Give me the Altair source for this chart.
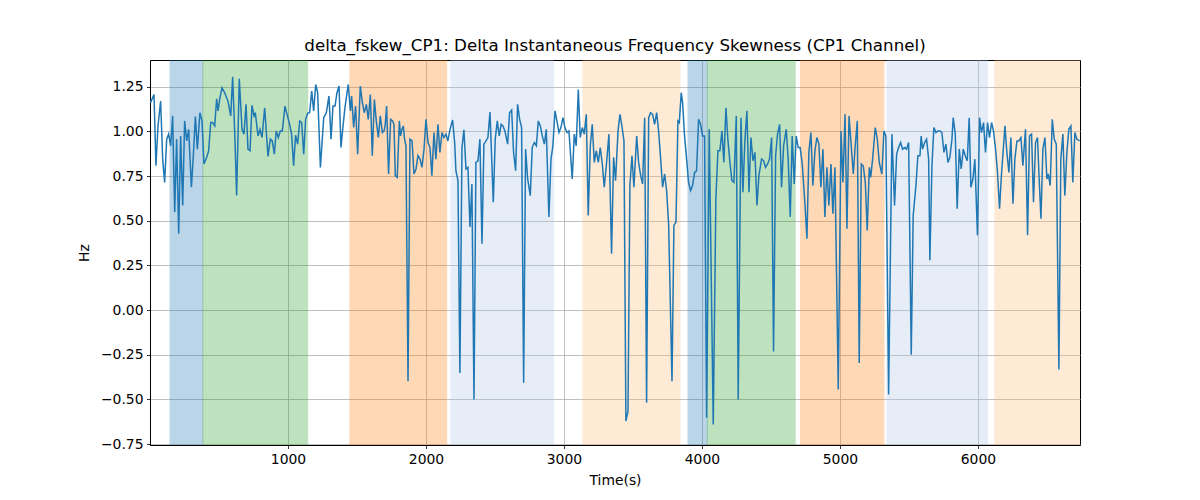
import altair as alt
import pandas as pd

# ---- data ----
times = [3, 29, 43, 58, 77, 92, 106, 121, 135, 150, 164, 179, 193, 208, 222, 237, 251, 266, 280, 300,
         314, 329, 343, 362, 377, 391, 411, 425, 440, 454, 469, 483, 493, 507, 522, 541, 565, 585, 599, 614,
         628, 647, 667, 681, 696, 710, 725, 739, 754, 763, 783, 797, 812, 831, 855, 872, 886, 901, 915, 930,
         944, 959, 978, 993, 1012, 1026, 1041, 1055, 1070, 1085, 1099, 1114, 1128, 1143, 1157, 1172, 1186, 1201, 1215, 1235,
         1259, 1278, 1297, 1312, 1326, 1341, 1355, 1370, 1384, 1399, 1413, 1428, 1437, 1452, 1461, 1476, 1490, 1505, 1524, 1539,
         1553, 1568, 1582, 1597, 1611, 1626, 1640, 1655, 1669, 1684, 1697, 1705, 1715, 1729, 1744, 1758, 1768, 1778, 1792, 1807,
         1816, 1826, 1836, 1845, 1855, 1870, 1884, 1899, 1913, 1928, 1942, 1957, 1971, 1986, 2000, 2015, 2029, 2043, 2058, 2072,
         2087, 2101, 2116, 2130, 2145, 2159, 2174, 2193, 2208, 2217, 2232, 2246, 2261, 2275, 2290, 2304, 2319, 2333, 2348, 2362,
         2377, 2391, 2406, 2420, 2435, 2449, 2464, 2488, 2502, 2517, 2531, 2545, 2558, 2572, 2592, 2606, 2621, 2635, 2650, 2664,
         2679, 2693, 2708, 2722, 2737, 2756, 2770, 2785, 2800, 2814, 2829, 2843, 2858, 2872, 2891, 2906, 2920, 2935, 2949, 2964,
         2978, 2993, 3007, 3022, 3036, 3060, 3075, 3089, 3104, 3118, 3133, 3147, 3162, 3176, 3191, 3205, 3220, 3234, 3249, 3263,
         3278, 3292, 3307, 3326, 3345, 3360, 3374, 3392, 3406, 3420, 3435, 3449, 3464, 3478, 3493, 3507, 3527, 3541, 3556, 3570,
         3585, 3599, 3614, 3628, 3643, 3657, 3672, 3686, 3701, 3715, 3730, 3744, 3759, 3783, 3797, 3812, 3826, 3836, 3850, 3860,
         3874, 3889, 3903, 3918, 3932, 3947, 3961, 3976, 3990, 4005, 4019, 4034, 4053, 4082, 4101, 4116, 4130, 4145, 4159, 4174,
         4188, 4203, 4217, 4232, 4249, 4263, 4283, 4297, 4312, 4326, 4341, 4355, 4370, 4384, 4399, 4413, 4432, 4447, 4461, 4476,
         4490, 4505, 4519, 4534, 4548, 4563, 4577, 4592, 4611, 4625, 4640, 4654, 4669, 4683, 4698, 4712, 4727, 4746, 4761, 4775,
         4790, 4804, 4819, 4833, 4848, 4862, 4877, 4891, 4906, 4920, 4935, 4949, 4964, 4988, 5008, 5022, 5037, 5051, 5066, 5097,
         5111, 5126, 5140, 5155, 5169, 5184, 5198, 5213, 5223, 5237, 5256, 5271, 5285, 5304, 5319, 5333, 5353, 5377, 5396, 5411,
         5425, 5440, 5454, 5469, 5483, 5498, 5517, 5531, 5551, 5565, 5580, 5589, 5599, 5614, 5628, 5643, 5652, 5667, 5681, 5696,
         5710, 5725, 5739, 5754, 5768, 5783, 5797, 5812, 5821, 5836, 5850, 5865, 5879, 5894, 5908, 5923, 5937, 5949, 5964, 5978,
         5997, 6012, 6026, 6041, 6055, 6070, 6084, 6099, 6113, 6128, 6142, 6157, 6171, 6186, 6196, 6210, 6225, 6239, 6254, 6268,
         6283, 6297, 6312, 6326, 6345, 6360, 6374, 6389, 6403, 6418, 6432, 6442, 6457, 6471, 6486, 6500, 6510, 6524, 6539, 6553,
         6568, 6587, 6601, 6616, 6630, 6645, 6659, 6674, 6688, 6703, 6717, 6737]

values = [1.16, 1.207, 0.808, 1.031, 1.170, 0.845, 0.715, 0.957, 0.985, 0.920, 1.087, 0.548, 0.957, 0.428, 0.975, 0.586, 1.059, 0.947, 1.012, 0.688,
          0.864, 1.083, 0.901, 1.105, 1.059, 0.818, 0.855, 0.892, 1.050, 1.050, 1.031, 1.183, 1.115, 1.189, 1.244, 1.217, 1.170, 1.087, 1.306, 0.994,
          0.641, 1.295, 1.012, 0.985, 1.152, 0.901, 0.892, 1.146, 1.087, 1.105, 0.975, 1.012, 0.966, 1.133, 0.860, 0.957, 0.947, 0.873, 1.003, 0.966,
          1.003, 1.003, 1.142, 1.096, 1.040, 0.985, 0.808, 0.979, 0.929, 1.059, 1.050, 0.873, 1.068, 1.102, 1.105, 1.226, 1.115, 1.263, 1.217, 0.799,
          1.077, 1.105, 1.198, 0.957, 1.142, 1.142, 1.217, 1.254, 0.910, 1.031, 1.133, 1.217, 1.263, 1.115, 1.198, 1.022, 1.142, 0.873, 1.254, 1.161,
          1.105, 1.152, 1.068, 1.207, 0.864, 1.179, 1.059, 0.966, 1.087, 0.994, 1.005, 1.040, 1.142, 0.762, 1.068, 1.059, 1.040, 0.753, 0.743, 1.059,
          0.975, 1.012, 1.031, 0.957, 0.920, -0.398, 0.957, 0.947, 0.762, 0.790, 0.864, 0.845, 0.799, 0.901, 1.068, 0.938, 0.910, 0.753, 0.994, 0.845,
          1.040, 0.883, 0.994, 0.966, 0.985, 0.947, 1.012, 1.064, 0.938, 0.780, 0.725, -0.352, 0.910, 1.009, 0.790, 0.799, 0.465, 0.706, -0.500, 0.827,
          0.836, 0.957, 0.372, 0.929, 0.947, 0.966, 1.109, 0.604, 0.957, 1.059, 0.975, 1.040, 1.031, 1.003, 0.929, 1.105, 1.120, 0.883, 0.780, 1.152,
          1.068, 1.022, -0.407, 0.901, 0.734, 0.641, 0.910, 0.938, 0.920, 1.059, 1.031, 0.975, 0.929, 1.012, 0.521, 0.845, 0.920, 1.115, 1.059, 0.994,
          1.022, 1.077, 1.022, 0.994, 1.003, 0.734, 0.985, 0.920, 1.235, 0.966, 1.022, 0.985, 1.096, 0.530, 0.920, 1.040, 0.827, 0.892, 0.827, 0.910,
          0.818, 0.688, 0.808, 0.985, 0.316, 0.855, 0.725, 1.003, 1.096, 1.031, 0.947, -0.621, -0.565, 0.697, 0.864, 0.688, 0.975, 0.827, 0.753, 0.706,
          1.077, -0.519, 1.077, 1.105, 1.096, 1.040, 1.105, 1.003, 0.845, 0.688, 0.762, 0.669, 0.474, -0.398, 0.474, 0.493, 1.059, 1.050, 1.217, 1.161,
          0.975, 0.845, 0.715, 0.669, 0.697, 0.771, 0.780, 1.068, 1.040, 0.975, 0.975, -0.602, 1.012, -0.640, 0.623, 0.892, 0.892, 1.003, 0.827, 1.133,
          0.957, 0.827, 0.725, 0.715, 1.087, -0.500, 1.077, 0.660, 0.957, 1.115, 0.660, 0.966, 0.836, 0.883, 0.586, 0.753, 0.845, 0.836, 0.799, 0.818,
          0.845, 0.966, -0.231, 0.864, 0.985, 1.040, 0.688, 0.920, 1.012, 0.845, 0.521, 0.975, 0.706, 0.975, 0.910, 0.910, 0.818, 0.604, 0.400, 0.883,
          0.994, 0.697, 0.892, 0.966, 0.929, 0.688, 0.901, 0.521, 0.799, 0.586, 0.818, 0.539, 0.799, -0.444, 1.003, 0.715, 1.096, 0.456, 1.087, 0.762,
          0.920, 1.059, -0.296, 0.818, 0.808, 0.715, 0.446, 0.799, 0.743, 0.845, 1.022, 0.957, 0.827, 0.762, 1.003, 0.975, -0.472, 0.985, 0.586, 0.873,
          0.910, 0.938, 0.901, 0.910, 0.901, 0.938, -0.250, 0.530, 0.697, 0.864, 0.864, 0.975, 0.901, 0.938, 0.957, 0.845, 0.279, 0.808, 1.022, 0.994,
          1.003, 1.003, 0.994, 0.883, 0.929, 0.827, 0.855, 0.957, 1.077, 0.985, 0.567, 0.901, 0.790, 0.901, 0.864, 0.836, 1.077, 0.688, 0.734, 0.845,
          0.419, 1.077, 0.994, 1.050, 0.883, 1.050, 0.966, 1.050, 1.003, 0.901, 0.771, 0.567, 0.762, 0.920, 1.031, 0.883, 0.771, 0.966, 0.595, 0.845,
          0.947, 0.947, 0.966, 0.808, 1.012, 0.419, 0.975, 0.985, 0.604, 0.938, 0.966, 0.771, 0.511, 0.901, 0.966, 0.734, 0.762, 0.697, 1.068, 0.957,
          0.929, -0.333, 0.845, 0.985, 0.641, 0.883, 1.012, 1.031, 0.715, 0.994, 0.957, 0.947]

span_starts = [145, 383, 1449, 2181, 3138, 3899, 4039, 4715, 5341, 6123]
span_ends = [383, 1143, 2150, 2925, 3841, 4039, 4676, 5319, 6070, 6760]
span_colors = ["#1f77b4", "#2ca02c", "#ff7f0e", "#aec7e8", "#ffbb78",
               "#1f77b4", "#2ca02c", "#ff7f0e", "#aec7e8", "#ffbb78"]

x_ticks = [1000, 2000, 3000, 4000, 5000, 6000]
y_ticks = [-0.75, -0.5, -0.25, 0.0, 0.25, 0.5, 0.75, 1.0, 1.25]

X_DOMAIN = [0, 6740]
Y_DOMAIN = [-0.755, 1.40]
W, H = 930, 385
FONT = "DejaVu Sans"

line_df = pd.DataFrame({"t": times, "v": values})
span_df = pd.DataFrame({"start": span_starts, "end": span_ends, "color": span_colors})

xscale = alt.Scale(domain=X_DOMAIN, nice=False, zero=False)
yscale = alt.Scale(domain=Y_DOMAIN, nice=False, zero=False)

spans = alt.Chart(span_df).mark_rect(opacity=0.3, strokeWidth=1, clip=True).encode(
    x=alt.X("start:Q", scale=xscale),
    x2="end:Q",
    y=alt.value(0),
    y2=alt.value(H),
    color=alt.Color("color:N", scale=None),
    stroke=alt.Stroke("color:N", scale=None),
)

line = alt.Chart(line_df).mark_line(color="#1f77b4", strokeWidth=1.5, clip=True).encode(
    x=alt.X("t:Q", scale=xscale,
            axis=alt.Axis(title="Time(s)", values=x_ticks, format="d", grid=True)),
    y=alt.Y("v:Q", scale=yscale,
            axis=alt.Axis(title="Hz", values=y_ticks, format=".2f", grid=True)),
)

chart = alt.layer(spans, line).properties(
    width=W, height=H,
    title=alt.TitleParams(
        "delta_fskew_CP1: Delta Instantaneous Frequency Skewness (CP1 Channel)",
        font=FONT, fontSize=16.7, fontWeight="normal", color="black", offset=5,
    ),
    autosize=alt.AutoSizeParams(type="none"),
    padding={"left": 142, "top": 52, "right": 112, "bottom": 47},
).configure_view(
    stroke="black", strokeWidth=1,
).configure_axis(
    labelFont=FONT, labelFontSize=13.9, labelColor="black",
    titleFont=FONT, titleFontSize=13.9, titleColor="black", titleFontWeight="normal",
    gridColor="#b0b0b0", gridWidth=0.8, gridOpacity=1,
    domainColor="black", domainWidth=1,
    tickColor="black", tickSize=3.5, tickWidth=0.8,
    labelPadding=3.5,
).configure_axisX(
    titlePadding=8,
).configure_axisY(
    titlePadding=9,
)

chart.save("out.html", embed_options={"renderer": "svg", "actions": False})
